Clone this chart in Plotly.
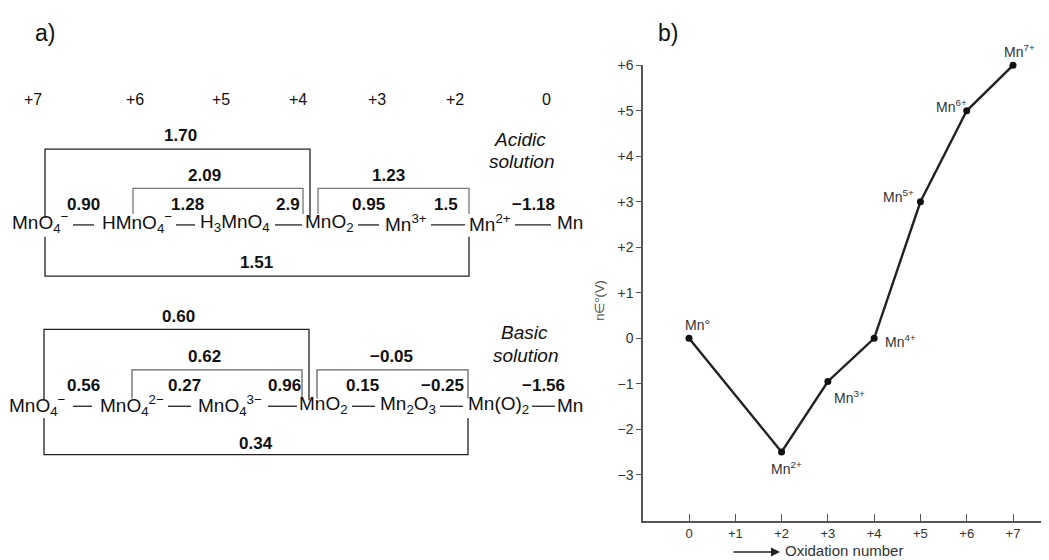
import plotly.graph_objects as go

W, H = 1049, 560          # reference picture size
OFF = 8                   # page body margin of the browser
FW, FH = W - OFF, H - OFF  # figure size so that it fits the window
FONT = "Liberation Sans, Arial, Helvetica, sans-serif"

# ---------------- data ----------------
# Frost diagram (b)
frost_ox = [0, 2, 3, 4, 5, 6, 7]
frost_nE = [0, -2.5, -0.95, 0, 3, 5, 6]
frost_labels = ["Mn°", "Mn<sup>2+</sup>", "Mn<sup>3+</sup>", "Mn<sup>4+</sup>",
                "Mn<sup>5+</sup>", "Mn<sup>6+</sup>", "Mn<sup>7+</sup>"]
x_tickvals = [0, 1, 2, 3, 4, 5, 6, 7]
x_ticktext = ["0", "+1", "+2", "+3", "+4", "+5", "+6", "+7"]
y_tickvals = [-3, -2, -1, 0, 1, 2, 3, 4, 5, 6]
y_ticktext = ["−3", "−2", "−1", "0", "+1", "+2", "+3", "+4", "+5", "+6"]

# Latimer diagram (a)
ox_states = ["+7", "+6", "+5", "+4", "+3", "+2", "0"]
acid_species = ["MnO<sub>4</sub><sup>−</sup>", "HMnO<sub>4</sub><sup>−</sup>",
                "H<sub>3</sub>MnO<sub>4</sub>", "MnO<sub>2</sub>",
                "Mn<sup>3+</sup>", "Mn<sup>2+</sup>", "Mn"]
acid_steps = ["0.90", "1.28", "2.9", "0.95", "1.5", "−1.18"]
acid_top = ["1.70"]
acid_mid = ["2.09", "1.23"]
acid_bottom = ["1.51"]

basic_species = ["MnO<sub>4</sub><sup>−</sup>", "MnO<sub>4</sub><sup>2−</sup>",
                 "MnO<sub>4</sub><sup>3−</sup>", "MnO<sub>2</sub>",
                 "Mn<sub>2</sub>O<sub>3</sub>", "Mn(O)<sub>2</sub>", "Mn"]
basic_steps = ["0.56", "0.27", "0.96", "0.15", "−0.25", "−1.56"]
basic_top = ["0.60"]
basic_mid = ["0.62", "−0.05"]
basic_bottom = ["0.34"]

# ---------------- layout helpers (picture pixel -> paper) ----------------
def px(x):
    return (x - OFF) / FW

def py(y):
    return 1 - (y - OFF) / FH

annotations = []
shapes = []

SP = 19   # species font
NB = 17   # bold potentials font

def text(x, y, s, size=16, bold=False, italic=False, color="#111", xanchor="center"):
    if bold:
        s = "<b>" + s + "</b>"
    if italic:
        s = "<i>" + s + "</i>"
    annotations.append(dict(x=px(x), y=py(y), xref="paper", yref="paper", text=s,
                            showarrow=False, xanchor=xanchor, yanchor="middle",
                            font=dict(family=FONT, size=size, color=color)))

def hline(x0, x1, y, color="#222", width=1.3):
    shapes.append(dict(type="line", xref="paper", yref="paper",
                       x0=px(x0), x1=px(x1), y0=py(y), y1=py(y),
                       line=dict(color=color, width=width)))

def bracket(x0, x1, yend, ybar, color="#222", width=1.3):
    path = "M {} {} L {} {} L {} {} L {} {}".format(
        px(x0), py(yend), px(x0), py(ybar), px(x1), py(ybar), px(x1), py(yend))
    shapes.append(dict(type="path", xref="paper", yref="paper", path=path,
                       line=dict(color=color, width=width)))

# panel labels
text(45, 25, "a)", size=23)
text(668, 25, "b)", size=23)

# oxidation state headers
ox_x = [33, 135, 221, 298, 377, 455, 546]
for s, x in zip(ox_states, ox_x):
    text(x, 93, s, size=16)

# ---- acidic ----
acid_x = [40, 137, 235, 329, 406, 490, 570]
acid_dash = [(73, 94), (176, 195), (275, 302), (358, 379), (431, 465), (515, 551)]
acid_step_x = [83, 187, 288, 368, 446, 533]
for s, x in zip(acid_species, acid_x):
    text(x, 218, s, size=SP)
for (a, b) in acid_dash:
    hline(a, b, 220)
for s, x in zip(acid_steps, acid_step_x):
    text(x, 199, s, size=NB, bold=True)
bracket(45, 310, 213, 143)
text(180, 129, acid_top[0], size=NB, bold=True)
bracket(133, 303, 209, 183, color="#777")
bracket(318, 469, 209, 183, color="#777")
text(204, 170, acid_mid[0], size=NB, bold=True)
text(388, 170, acid_mid[1], size=NB, bold=True)
bracket(45, 469, 232, 272)
text(256, 258, acid_bottom[0], size=NB, bold=True)
text(520, 133, "Acidic", size=19, italic=True)
text(522, 156, "solution", size=19, italic=True)

# ---- basic ----
basic_x = [37, 132, 230, 323, 408, 498, 570]
basic_dash = [(73, 92), (168, 191), (268, 297), (352, 375), (440, 463), (532, 555)]
basic_step_x = [83, 184, 284, 362, 442, 543]
for s, x in zip(basic_species, basic_x):
    text(x, 403, s, size=SP)
for (a, b) in basic_dash:
    hline(a, b, 404)
for s, x in zip(basic_steps, basic_step_x):
    text(x, 383, s, size=NB, bold=True)
bracket(44, 309, 398, 326)
text(178, 313, basic_top[0], size=NB, bold=True)
bracket(132, 302, 396, 367, color="#666")
bracket(317, 468, 396, 367, color="#666")
text(204, 354, basic_mid[0], size=NB, bold=True)
text(391, 354, basic_mid[1], size=NB, bold=True)
bracket(44, 468, 416, 453)
text(256, 442, basic_bottom[0], size=NB, bold=True)
text(524, 329, "Basic", size=19, italic=True)
text(526, 352, "solution", size=19, italic=True)

# ---------------- Frost diagram ----------------
fig = go.Figure()
fig.add_trace(go.Scatter(x=frost_ox, y=frost_nE, mode="lines+markers",
                         line=dict(color="#222", width=2.4),
                         marker=dict(color="#111", size=7),
                         cliponaxis=False, showlegend=False, hoverinfo="x+y"))

# label offsets in pixels (layout only)
lab_off = [(8, 13), (5, -16), (22, -16), (26, -3), (-22, 6), (-15, 5), (6, 14)]
for ox, v, lab, (dx, dy) in zip(frost_ox, frost_nE, frost_labels, lab_off):
    annotations.append(dict(x=ox, y=v, xref="x", yref="y", text=lab, showarrow=False,
                            xshift=dx, yshift=dy, xanchor="center", yanchor="middle",
                            font=dict(family=FONT, size=14, color="#333")))

# y-axis title
annotations.append(dict(x=px(600), y=py(297), xref="paper", yref="paper",
                        text="n∈°(V)", textangle=-90, showarrow=False,
                        font=dict(family=FONT, size=13, color="#555")))
# x-axis title with arrow
annotations.append(dict(x=px(783), y=0, xref="paper", yref="paper",
                        text="Oxidation number", showarrow=False, xanchor="left",
                        yanchor="bottom", yshift=-1,
                        font=dict(family=FONT, size=15, color="#333")))
annotations.append(dict(x=px(780), y=py(552), xref="paper", yref="paper", text="",
                        showarrow=True, ax=-48, ay=0, arrowhead=2, arrowsize=1.2,
                        arrowwidth=1.5, arrowcolor="#222"))

x0p, x7p = 689, 1013
unit_x = (x7p - x0p) / 7.0
y6p, y0p = 58, 335
unit_y = (y0p - y6p) / 6.0
yr = [(y0p - 520) / unit_y, 6]

fig.update_layout(
    width=FW, height=FH, margin=dict(l=0, r=0, t=0, b=0),
    paper_bgcolor="white", plot_bgcolor="white",
    xaxis=dict(domain=[px(643), 1.0], range=[(643 - x0p) / unit_x, (W - x0p) / unit_x],
               tickvals=x_tickvals, ticktext=x_ticktext,
               showgrid=False, zeroline=False, showline=True, linecolor="#555", linewidth=1.5,
               ticks="inside", ticklen=7, tickcolor="#555", tickwidth=1.3,
               tickfont=dict(family=FONT, size=13, color="#333"), fixedrange=True),
    yaxis=dict(domain=[py(520), py(58)], range=yr, tickvals=y_tickvals,
               ticktext=y_ticktext, showgrid=False, zeroline=False, showline=True,
               linecolor="#555", linewidth=1.5, ticks="outside", ticklen=5,
               tickcolor="#555", tickwidth=1.3,
               tickfont=dict(family=FONT, size=14, color="#333"), fixedrange=True),
    annotations=annotations, shapes=shapes, showlegend=False,
)

fig.write_html("out.html")
